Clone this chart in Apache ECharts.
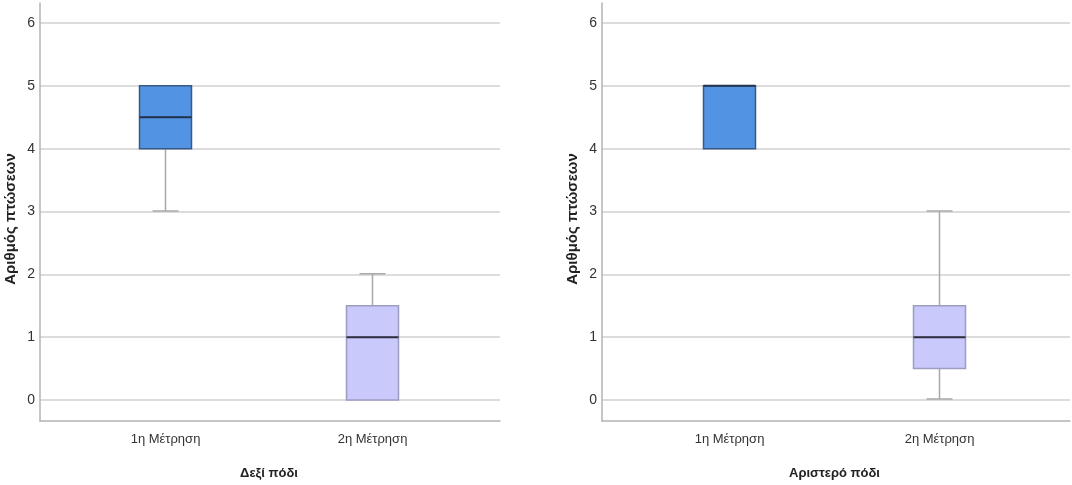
<!DOCTYPE html>
<html>
<head>
<meta charset="utf-8">
<script src="https://cdn.jsdelivr.net/npm/echarts@6/dist/echarts.min.js"></script>
<style>html,body{margin:0;padding:0;background:#fff;}#c{width:1072px;height:485px;}</style>
</head>
<body>
<div id="c"></div>
<script>
// ---- data ----
const categories = ['1η Μέτρηση', '2η Μέτρηση'];
// [min, Q1, median, Q3, max]
const rightFoot = [[3, 4, 4.5, 5, 5], [0, 0, 1, 1.5, 2]];   // Δεξί πόδι
const leftFoot  = [[4, 4, 5, 5, 5],   [0, 0.5, 1, 1.5, 3]]; // Αριστερό πόδι
const yTicks = [0, 1, 2, 3, 4, 5, 6];
const panelTitles = ['Δεξί πόδι', 'Αριστερό πόδι'];
const yTitle = 'Αριθμός πτώσεων';

// ---- styles ----
const boxFill = ['#5393e3', '#c9c9fb'];
const boxBorder = ['#3a5a85', '#9d9dc2'];
const medianColor = ['#22334d', '#2e2e40'];
const whiskerColor = '#a9a9a9';
const gridColor = '#dcdcdc';
const axisColor = '#b3b3b3';
const font = "'Liberation Sans', Arial, sans-serif";

const panels = [
  { data: rightFoot, frameLeft: 40, frameWidth: 460, boxLeft: 62, boxWidth: 414, title: panelTitles[0] },
  { data: leftFoot, frameLeft: 602, frameWidth: 468, boxLeft: 624.5, boxWidth: 420, title: panelTitles[1] }
];
const top6 = 23, zeroY = 400, frameTop = 3, frameBottom = 421;

const grid = [], xAxis = [], yAxis = [], series = [];
let gi = 0;
function addGrid(g) { grid.push(g); return gi++; }

panels.forEach((p) => {
  // frame
  const g0 = addGrid({ left: p.frameLeft, width: p.frameWidth, top: frameTop, height: frameBottom - frameTop });
  xAxis.push({ gridIndex: g0, type: 'value', min: 0, max: 1,
    axisLine: { show: true, lineStyle: { color: axisColor, width: 1.5 } },
    axisTick: { show: false }, axisLabel: { show: false }, splitLine: { show: false } });
  yAxis.push({ gridIndex: g0, type: 'value', min: 0, max: 1,
    axisLine: { show: true, lineStyle: { color: axisColor, width: 1.5 } },
    axisTick: { show: false }, axisLabel: { show: false }, splitLine: { show: false },
    name: yTitle, nameLocation: 'middle', nameGap: 22, nameRotate: 90,
    nameTextStyle: { fontFamily: font, fontWeight: 'bold', fontSize: 15, color: '#222', padding: [0, 14, 0, 0] } });

  // split lines + tick labels
  const g1 = addGrid({ left: p.frameLeft, width: p.frameWidth, top: top6, height: zeroY - top6 });
  xAxis.push({ gridIndex: g1, type: 'value', min: 0, max: 1, show: false });
  yAxis.push({ gridIndex: g1, type: 'value', min: yTicks[0], max: yTicks[yTicks.length - 1], interval: 1,
    axisLine: { show: false }, axisTick: { show: false },
    axisLabel: { margin: 5, fontFamily: font, fontSize: 14, color: '#333' },
    splitLine: { show: true, lineStyle: { color: gridColor, width: 2 } } });

  // three overlaid layers: whiskers, boxes, medians
  const layers = [
    { boxW: 26, data: p.data.map(d => [d[0], d[2], d[2], d[2], d[4]]),
      style: () => ({ color: 'rgba(0,0,0,0)', borderColor: whiskerColor, borderWidth: 1.5 }), labels: true },
    { boxW: 52, data: p.data.map(d => [d[1], d[1], d[2], d[3], d[3]]),
      style: (i) => ({ color: boxFill[i], borderColor: boxBorder[i], borderWidth: 1.5 }) },
    { boxW: 52, data: p.data.map(d => [d[2], d[2], d[2], d[2], d[2]]),
      style: (i) => ({ color: 'rgba(0,0,0,0)', borderColor: medianColor[i], borderWidth: 2 }) }
  ];
  layers.forEach((L) => {
    const g = addGrid({ left: p.boxLeft, width: p.boxWidth, top: top6, height: zeroY - top6 });
    if (L.labels) {
      xAxis.push({ gridIndex: g, type: 'category', data: categories, offset: 21,
        axisLine: { show: false }, axisTick: { show: false },
        axisLabel: { margin: 13, fontFamily: font, fontSize: 13, color: '#333' },
        name: p.title, nameLocation: 'middle', nameGap: 47,
        nameTextStyle: { fontFamily: font, fontWeight: 'bold', fontSize: 13, color: '#222' } });
    } else {
      xAxis.push({ gridIndex: g, type: 'category', data: categories, show: false });
    }
    yAxis.push({ gridIndex: g, type: 'value', min: yTicks[0], max: yTicks[yTicks.length - 1], show: false });
    series.push({ type: 'boxplot', xAxisIndex: xAxis.length - 1, yAxisIndex: yAxis.length - 1, silent: true,
      boxWidth: [L.boxW, L.boxW],
      data: L.data.map((v, i) => ({ value: v, itemStyle: L.style(i) })) });
  });
});

const chart = echarts.init(document.getElementById('c'), null, { renderer: 'canvas' });
chart.setOption({ animation: false, backgroundColor: '#fff', grid, xAxis, yAxis, series });
</script>
</body>
</html>
